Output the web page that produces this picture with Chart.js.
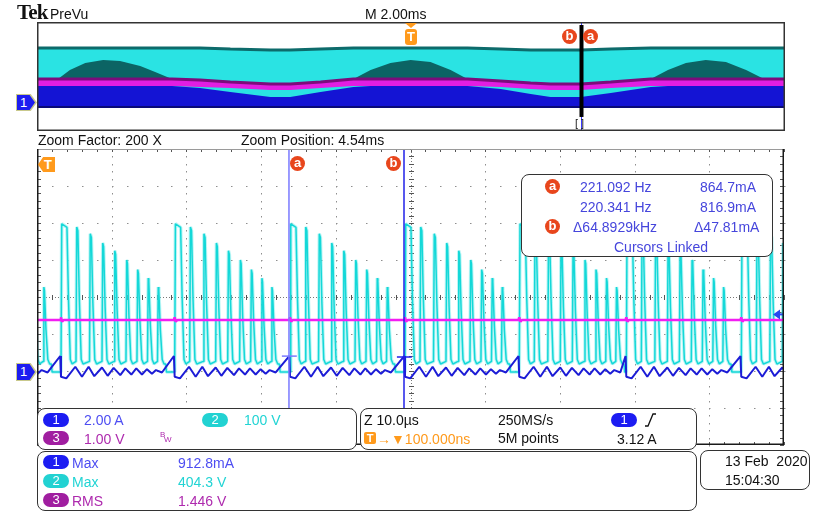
<!DOCTYPE html>
<html>
<head>
<meta charset="utf-8">
<script src="https://cdn.jsdelivr.net/npm/chart.js@4.4.0/dist/chart.umd.min.js"></script>
<style>
  body { margin:0; width:816px; height:515px; background:#fff; position:relative; overflow:hidden;
         font-family:"Liberation Sans", Arial, sans-serif; }
  canvas { position:absolute; }
  .t { position:absolute; font-size:14px; line-height:14px; white-space:pre; color:#111; }
  .box { position:absolute; box-sizing:border-box; background:#fff; border:1.7px solid #333; border-radius:8px; }
  .pill { position:absolute; width:26px; height:14px; border-radius:7px; color:#fff; font-size:13px; line-height:14px; text-align:center; }
  .cur { position:absolute; width:15px; height:15px; border-radius:50%; background:#e8461c; color:#fff;
         font-size:13px; font-weight:bold; line-height:14px; text-align:center; }
  .ch1 { color:#4d4df2; } .ch2 { color:#22d4d4; } .ch3 { color:#ae2aae; }
  .ro { color:#4646dc; }
  .org { color:#ff9a1c; }
</style>
</head>
<body>

<canvas id="prevu" width="768" height="129" style="left:27px;top:12px;width:768px;height:129px"></canvas>
<canvas id="zoom" width="767" height="316" style="left:27px;top:139px;width:767px;height:316px"></canvas>

<!-- header -->
<div class="t" style="left:17px;top:2px;font-family:'Liberation Serif',serif;font-weight:bold;font-size:21px;line-height:21px;letter-spacing:-0.8px">Tek</div>
<div class="t" style="left:50px;top:7px">PreVu</div>
<div class="t" style="left:365px;top:7px">M 2.00ms</div>
<div class="t" style="left:38px;top:133px">Zoom Factor: 200 X</div>
<div class="t" style="left:241px;top:133px">Zoom Position: 4.54ms</div>

<!-- PreVu markers -->
<div style="position:absolute;left:405px;top:23px;width:0;height:0;border-left:6px solid transparent;border-right:6px solid transparent;border-top:5px solid #ff9a1c"></div>
<div style="position:absolute;left:405px;top:29px;width:12px;height:16px;border-radius:3px;background:#ff9a1c;color:#fff;font-weight:bold;font-size:13px;line-height:16px;text-align:center">T</div>
<div class="cur" style="left:562px;top:29px">b</div>
<div class="cur" style="left:583px;top:29px">a</div>
<div class="t" style="left:575px;top:118px;font-size:11px;line-height:11px;color:#222">[ ]</div>
<div style="position:absolute;left:16px;top:94px;width:21px;height:17px;background:#c9c98c;clip-path:polygon(0 0,70% 0,100% 50%,70% 100%,0 100%)">
  <div style="position:absolute;left:1px;top:1px;width:18px;height:15px;background:#1c1cf0;clip-path:polygon(0 0,70% 0,100% 50%,70% 100%,0 100%);color:#fff;font-size:13px;line-height:15px;padding-left:3px;box-sizing:border-box">1</div>
</div>

<!-- zoom window markers -->
<div style="position:absolute;left:38px;top:157px;width:17px;height:15px;background:#ff9a1c;clip-path:polygon(30% 0,100% 0,100% 100%,30% 100%,0 50%);color:#fff;font-weight:bold;font-size:13px;line-height:15px;text-align:right;padding-right:3px;box-sizing:border-box">T</div>
<div class="cur" style="left:290px;top:156px">a</div>
<div class="cur" style="left:386px;top:156px">b</div>
<div style="position:absolute;left:16px;top:363px;width:21px;height:18px;background:#c9c98c;clip-path:polygon(0 0,70% 0,100% 50%,70% 100%,0 100%)">
  <div style="position:absolute;left:1px;top:1px;width:18px;height:16px;background:#1c1cf0;clip-path:polygon(0 0,70% 0,100% 50%,70% 100%,0 100%);color:#fff;font-size:13px;line-height:16px;padding-left:3px;box-sizing:border-box">1</div>
</div>

<!-- cursor readout -->
<div class="box" style="left:521px;top:174px;width:252px;height:83px"></div>
<div class="cur" style="left:545px;top:179px">a</div>
<div class="t ro" style="left:580px;top:180px">221.092 Hz</div>
<div class="t ro" style="left:700px;top:180px">864.7mA</div>
<div class="t ro" style="left:580px;top:200px">220.341 Hz</div>
<div class="t ro" style="left:700px;top:200px">816.9mA</div>
<div class="cur" style="left:545px;top:219px">b</div>
<div class="t ro" style="left:573px;top:220px">Δ64.8929kHz</div>
<div class="t ro" style="left:694px;top:220px">Δ47.81mA</div>
<div class="t ro" style="left:614px;top:240px">Cursors Linked</div>

<!-- channel box -->
<div class="box" style="left:37px;top:408px;width:320px;height:42px"></div>
<div class="pill" style="left:43px;top:413px;background:#1c1cf2">1</div>
<div class="t ch1" style="left:84px;top:413px">2.00 A</div>
<div class="pill" style="left:202px;top:413px;background:#22d2d2">2</div>
<div class="t ch2" style="left:244px;top:413px">100 V</div>
<div class="pill" style="left:43px;top:431px;background:#a01ea0">3</div>
<div class="t ch3" style="left:84px;top:432px">1.00 V</div>
<div class="t ch3" style="left:160px;top:431px;font-size:8px;line-height:8px">B</div>
<div class="t ch3" style="left:164px;top:436px;font-size:8px;line-height:8px">W</div>

<!-- timebase box -->
<div class="box" style="left:360px;top:408px;width:337px;height:42px"></div>
<div class="t" style="left:364px;top:413px">Z 10.0µs</div>
<div style="position:absolute;left:364px;top:432px;width:12px;height:12px;border-radius:2px;background:#ff9a1c;color:#fff;font-weight:bold;font-size:11px;line-height:12px;text-align:center">T</div>
<div class="t org" style="left:377px;top:432px">→▼100.000ns</div>
<div class="t" style="left:498px;top:413px">250MS/s</div>
<div class="t" style="left:498px;top:431px">5M points</div>
<div class="pill" style="left:611px;top:413px;background:#1c1cf2">1</div>
<svg style="position:absolute;left:645px;top:413px" width="12" height="14"><polyline points="0,13 3,13 8,1 11,1" fill="none" stroke="#111" stroke-width="1.3"/></svg>
<div class="t" style="left:617px;top:432px">3.12 A</div>

<!-- measurement box -->
<div class="box" style="left:37px;top:451px;width:660px;height:60px"></div>
<div class="pill" style="left:43px;top:455px;background:#1c1cf2">1</div>
<div class="t ch1" style="left:72px;top:456px">Max</div>
<div class="t ch1" style="left:178px;top:456px">912.8mA</div>
<div class="pill" style="left:43px;top:474px;background:#22d2d2">2</div>
<div class="t ch2" style="left:72px;top:475px">Max</div>
<div class="t ch2" style="left:178px;top:475px">404.3 V</div>
<div class="pill" style="left:43px;top:493px;background:#a01ea0">3</div>
<div class="t ch3" style="left:72px;top:494px">RMS</div>
<div class="t ch3" style="left:178px;top:494px">1.446 V</div>

<!-- date box -->
<div class="box" style="left:700px;top:450px;width:110px;height:40px"></div>
<div class="t" style="left:725px;top:454px">13 Feb  2020</div>
<div class="t" style="left:725px;top:473px">15:04:30</div>

<script>
// ---- zoom window: 10 div x 10.0 us, 8 div tall ----
// all three grounds sit on the "1" marker
const gndDiv = -2.03;
const ch1AmpsPerDiv = 2.0;
const ch2VoltsPerDiv = 100;
const ch3VoltsPerDiv = 1.0;

// ch2 (cyan): bursts of 9 pulses, one burst every ~15.3 us
const burstStartUs = [-12.1, 3.21, 18.43, 33.87, 49.26, 64.56, 78.89, 94.28];
const pulseOffsetUs = [0, 2.01, 3.82, 5.49, 7.10, 8.70, 10.17, 11.58, 12.92];
const pulsePeakV = [401, 392, 374, 349, 328, 303, 277, 254, 230];
const pulseTopUs = [0.7, 0.15, 0.15, 0.12, 0.12, 0.1, 0.1, 0.08, 0.08];
const pulseValleyV = 22;

// ch1 (blue): ripple inside one burst, offsets from burst start
const ch1OffsetUs = [-0.1, 0.0, 0.71, 1.92, 2.81, 3.70, 4.46, 5.49, 6.25, 7.05, 7.94, 8.61, 9.42, 10.08, 10.84, 11.51, 12.18, 12.72, 13.52];
const ch1Amps = [0.87, -0.25, -0.34, 0.29, -0.25, 0.29, -0.22, 0.25, -0.20, 0.23, -0.16, 0.20, -0.13, 0.20, -0.13, 0.16, -0.09, 0.11, -0.02];

// ch3 (magenta): flat with a small glitch at each burst
const ch3LevelV = 1.41;
const ch3GlitchV = [0.07, -0.05];

const cursorUs = [33.73, 49.13];
const cursorAmps = [0.8647, 0.8169];
const trigLevelA = 3.12;

// ---- PreVu record: 20 ms across, trigger at 10 ms ----
const ovMs = [0.00, 0.56, 0.88, 1.29, 1.77, 2.22, 2.76, 3.16, 3.61, 4.36, 5.17, 6.24, 6.77, 7.58, 8.46, 8.92, 9.45,
              9.99, 10.52, 11.06, 11.51, 12.40, 13.20, 13.73, 14.54, 15.34, 16.41, 16.87, 17.35, 17.88, 18.42, 18.96, 19.44, 20.00];
const ovCyanTop = [2.09, 2.09, 2.09, 2.09, 2.09, 2.09, 2.09, 2.09, 2.09, 2.09, 2.02, 1.94, 1.94, 2.02, 2.09, 2.09, 2.09,
                   2.09, 2.09, 2.09, 2.09, 2.02, 1.94, 1.94, 1.94, 2.02, 2.09, 2.09, 2.09, 2.09, 2.09, 2.09, 2.09, 2.09];
const ovHump = [-0.18, -0.18, 0.48, 0.99, 1.21, 1.14, 0.77, 0.33, -0.18, -0.26, -0.40, -0.55, -0.55, -0.40, -0.18, 0.48, 0.99,
                1.21, 1.06, 0.48, -0.18, -0.33, -0.48, -0.55, -0.55, -0.40, -0.18, 0.48, 0.99, 1.21, 1.06, 0.48, -0.18, -0.18];
const ovMagTop = [-0.18, -0.18, -0.18, -0.18, -0.18, -0.18, -0.18, -0.18, -0.18, -0.26, -0.40, -0.55, -0.55, -0.40, -0.18, -0.18, -0.18,
                  -0.18, -0.18, -0.18, -0.18, -0.33, -0.48, -0.55, -0.55, -0.40, -0.18, -0.18, -0.18, -0.18, -0.18, -0.18, -0.18, -0.18];
const ovMagBot = [-0.70, -0.70, -0.70, -0.70, -0.70, -0.70, -0.70, -0.70, -0.70, -0.77, -0.84, -0.99, -0.99, -0.84, -0.70, -0.70, -0.70,
                  -0.70, -0.70, -0.70, -0.70, -0.77, -0.92, -0.99, -0.99, -0.84, -0.70, -0.70, -0.70, -0.70, -0.70, -0.70, -0.70, -0.70];
const ovBlueTop = [-0.70, -0.70, -0.70, -0.70, -0.70, -0.70, -0.70, -0.70, -0.70, -0.84, -1.14, -1.50, -1.50, -1.14, -0.77, -0.70, -0.70,
                   -0.70, -0.70, -0.70, -0.70, -0.92, -1.28, -1.50, -1.50, -1.21, -0.77, -0.70, -0.70, -0.70, -0.70, -0.70, -0.70, -0.70];
const ovBlueBot = [-2.24, -2.24, -2.24, -2.24, -2.24, -2.24, -2.24, -2.24, -2.24, -2.24, -2.24, -2.24, -2.24, -2.24, -2.24, -2.24, -2.24,
                   -2.24, -2.24, -2.24, -2.24, -2.24, -2.24, -2.24, -2.24, -2.24, -2.24, -2.24, -2.24, -2.24, -2.24, -2.24, -2.24, -2.24];
const zoomCentreMs = 14.54;
const zoomSpanMs = 0.1;

function toDiv(v, perDiv) { return v / perDiv + gndDiv; }

// build traces from the read values
const ch2Pts = [];
burstStartUs.forEach(t0 => {
    pulseOffsetUs.forEach((dt, k) => {
        const r = t0 + dt;
        const top = pulseTopUs[k];
        ch2Pts.push({x: r, y: k === 0 ? 0 : pulseValleyV + 7});
        ch2Pts.push({x: r + 0.1, y: pulsePeakV[k]});
        ch2Pts.push({x: r + 0.1 + top, y: pulsePeakV[k] - 10});
        ch2Pts.push({x: r + 0.3 + top, y: pulsePeakV[k] * 0.5});
        ch2Pts.push({x: r + 0.55 + top, y: pulseValleyV + 12});
        ch2Pts.push({x: r + 0.8 + top, y: pulseValleyV});
        if (k === pulseOffsetUs.length - 1) {
            ch2Pts.push({x: r + 1.1, y: pulseValleyV});
            ch2Pts.push({x: r + 1.2, y: 0});
        }
    });
});
const ch2Data = ch2Pts.map(p => ({x: p.x, y: toDiv(p.y, ch2VoltsPerDiv)}));

const ch1Data = [];
burstStartUs.forEach(t0 => {
    ch1OffsetUs.forEach((dt, i) => ch1Data.push({x: t0 + dt, y: toDiv(ch1Amps[i], ch1AmpsPerDiv)}));
});

const ch3Pts = [{x: -1, y: ch3LevelV}];
burstStartUs.filter(t => t > 0).forEach(t0 => {
    ch3Pts.push({x: t0 - 0.1, y: ch3LevelV});
    ch3Pts.push({x: t0, y: ch3LevelV + ch3GlitchV[0]});
    ch3Pts.push({x: t0 + 0.15, y: ch3LevelV + ch3GlitchV[1]});
    ch3Pts.push({x: t0 + 0.35, y: ch3LevelV});
});
ch3Pts.push({x: 101, y: ch3LevelV});
const ch3Data = ch3Pts.map(p => ({x: p.x, y: toDiv(p.y, ch3VoltsPerDiv)}));

function cursorLine(i) { return [{x: cursorUs[i], y: -4}, {x: cursorUs[i], y: 4}]; }
function cursorMark(i) {
    const lv = toDiv(cursorAmps[i], ch1AmpsPerDiv);
    return [{x: cursorUs[i] - 0.95, y: lv}, {x: cursorUs[i] + 1.05, y: lv}];
}

// graticule for the zoom window
const graticule = {
    id: 'graticule',
    beforeDatasetsDraw(chart) {
        const {ctx, chartArea: a, scales: {x, y}} = chart;
        const X = v => Math.round(x.getPixelForValue(v));
        const Y = v => Math.round(y.getPixelForValue(v));
        ctx.save();
        ctx.fillStyle = '#8e8e8e';
        for (let gx = 10; gx < 100; gx += 10) {
            if (gx === 50) continue;
            for (let i = 0; i <= 40; i++) ctx.fillRect(X(gx), Y(-4 + i * 0.2), 1, 1.5);
        }
        for (let gy = -3; gy <= 3; gy++) {
            if (gy === 0) continue;
            for (let i = 0; i <= 50; i++) ctx.fillRect(X(i * 2), Y(gy), 1.5, 1);
        }
        ctx.strokeStyle = '#777';
        ctx.lineWidth = 1;
        ctx.setLineDash([1, 2]);
        ctx.beginPath();
        ctx.moveTo(a.left, Y(0) + 0.5); ctx.lineTo(a.right, Y(0) + 0.5);
        ctx.moveTo(X(50) + 0.5, a.top); ctx.lineTo(X(50) + 0.5, a.bottom);
        ctx.stroke();
        ctx.setLineDash([]);
        ctx.fillStyle = '#555';
        for (let i = 0; i <= 50; i++) {
            const px = X(i * 2);
            ctx.fillRect(px, Y(0) - 2, 1, 5);
            ctx.fillRect(px, a.top, 1, 3);
            ctx.fillRect(px, a.bottom - 3, 1, 3);
        }
        for (let i = 0; i <= 40; i++) {
            const py = Y(-4 + i * 0.2);
            ctx.fillRect(X(50) - 2, py, 5, 1);
            ctx.fillRect(a.left, py, 4, 1);
            ctx.fillRect(a.right - 4, py, 4, 1);
        }
        ctx.restore();
    },
    afterDatasetsDraw(chart) {
        const {ctx, chartArea: a, scales: {y}} = chart;
        ctx.save();
        // trigger level arrow
        const ty = y.getPixelForValue(toDiv(trigLevelA, ch1AmpsPerDiv));
        ctx.fillStyle = '#2848f0';
        ctx.beginPath();
        ctx.moveTo(a.right - 11, ty);
        ctx.lineTo(a.right - 4, ty - 5);
        ctx.lineTo(a.right - 4, ty + 5);
        ctx.closePath();
        ctx.fill();
        ctx.fillRect(a.right - 5, ty - 1, 5, 2);
        // frame
        ctx.strokeStyle = '#9a9a9a';
        ctx.lineWidth = 1;
        ctx.beginPath(); ctx.moveTo(a.left, a.top + 0.5); ctx.lineTo(a.right, a.top + 0.5); ctx.stroke();
        ctx.strokeStyle = '#1a1a1a';
        ctx.lineWidth = 1.5;
        ctx.beginPath();
        ctx.moveTo(a.left + 0.75, a.top); ctx.lineTo(a.left + 0.75, a.bottom - 0.75);
        ctx.lineTo(a.right - 0.75, a.bottom - 0.75); ctx.lineTo(a.right - 0.75, a.top);
        ctx.stroke();
        ctx.restore();
    }
};

const prevuFrame = {
    id: 'prevuFrame',
    afterDatasetsDraw(chart) {
        const {ctx, chartArea: a, scales: {x, y}} = chart;
        const zx = Math.round(x.getPixelForValue(zoomCentreMs));
        const w = Math.max(4, x.getPixelForValue(zoomSpanMs) - x.getPixelForValue(0));
        ctx.save();
        ctx.strokeStyle = '#3a3aff';
        ctx.lineWidth = 1;
        ctx.beginPath(); ctx.moveTo(zx + 0.5, a.top); ctx.lineTo(zx + 0.5, a.bottom); ctx.stroke();
        ctx.fillStyle = '#000';
        const top = y.getPixelForValue(3.78), bot = y.getPixelForValue(-2.97);
        ctx.fillRect(zx + 0.5 - w / 2, top, w, bot - top);
        ctx.strokeStyle = '#333';
        ctx.lineWidth = 1.5;
        ctx.strokeRect(a.left + 0.75, a.top + 0.75, a.right - a.left - 1.5, a.bottom - a.top - 1.5);
        ctx.restore();
    }
};

const baseOptions = (xMax) => ({
    responsive: false,
    animation: false,
    events: [],
    layout: { padding: 10 },
    elements: {
        point: { radius: 0 },
        line: { tension: 0, borderJoinStyle: 'bevel' }
    },
    plugins: { legend: { display: false }, tooltip: { enabled: false } },
    scales: {
        x: { type: 'linear', min: 0, max: xMax, display: false },
        y: { min: -4, max: 4, display: false }
    }
});

// PreVu (whole record)
const ov = (arr) => ovMs.map((t, i) => ({x: t, y: arr[i]}));
new Chart(document.getElementById('prevu'), {
    type: 'line',
    data: {
        datasets: [
            { data: ov(ovCyanTop), borderColor: '#0d6b6b', borderWidth: 3, backgroundColor: '#2ae3e3', fill: 5, order: 6 },
            { data: ov(ovHump), borderWidth: 0, borderColor: 'rgba(0,0,0,0)', backgroundColor: '#0c6464', fill: '+1', order: 5 },
            { data: ov(ovMagTop), borderColor: '#7c0c7c', borderWidth: 3, backgroundColor: '#e21ee2', fill: '+1', order: 4 },
            { data: ov(ovMagBot), borderWidth: 0, borderColor: 'rgba(0,0,0,0)', fill: false, order: 4 },
            { data: ov(ovBlueTop), borderWidth: 0, borderColor: 'rgba(0,0,0,0)', backgroundColor: '#1414d4', fill: '+1', order: 3 },
            { data: ov(ovBlueBot), borderColor: '#0a0a78', borderWidth: 2, fill: false, order: 2 }
        ]
    },
    options: baseOptions(20),
    plugins: [prevuFrame]
});

// zoom window
new Chart(document.getElementById('zoom'), {
    type: 'line',
    data: {
        datasets: [
            { label: 'ch2 halo', data: ch2Data, borderColor: 'rgba(120,236,236,0.5)', borderWidth: 3.5, order: 6 },
            { label: 'ch2', data: ch2Data, borderColor: '#14d8d8', borderWidth: 1.5, order: 5 },
            { label: 'ch3', data: ch3Data, borderColor: '#f21ef2', borderWidth: 2.5, order: 4 },
            { label: 'ch1', data: ch1Data, borderColor: '#1c1cd6', borderWidth: 2, order: 3 },
            { label: 'cursor a', data: cursorLine(0), borderColor: '#7a7aff', borderWidth: 1.5, order: 1 },
            { label: 'cursor b', data: cursorLine(1), borderColor: '#2020e8', borderWidth: 1.5, order: 1 },
            { label: 'mark a', data: cursorMark(0), borderColor: '#7a7aff', borderWidth: 1.5, order: 1 },
            { label: 'mark b', data: cursorMark(1), borderColor: '#2020e8', borderWidth: 1.5, order: 1 }
        ]
    },
    options: baseOptions(100),
    plugins: [graticule]
});
</script>
</body>
</html>
